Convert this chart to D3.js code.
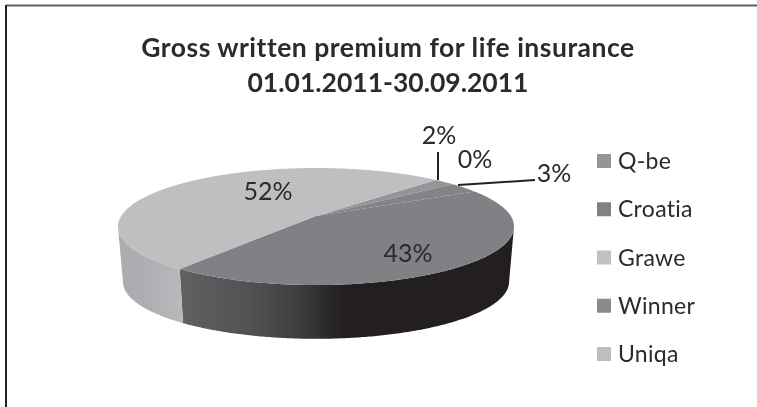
<!DOCTYPE html>
<html>
<head>
<meta charset="utf-8">
<script src="https://cdn.jsdelivr.net/npm/d3@7"></script>
<style>
html, body { margin: 0; padding: 0; background: #fff; }
svg { display: block; filter: blur(0.35px); }
text { font-family: Lato, "Open Sans", sans-serif; fill: #2b2a2c; }
</style>
</head>
<body>
<script>
const categories = ['Q-be', 'Croatia', 'Grawe', 'Winner', 'Uniqa']
const shares = [2, 0, 3, 43, 52]
const legendColors = ['#939598', '#808285', '#c0c1c3', '#8a8b8e', '#bcbec0']
const topColors = ['#939598', '#808285', '#838487', '#808184', '#bebfc1']
const titleLines = ['Gross written premium for life insurance', '01.01.2011-30.09.2011']

const W = 757, H = 407

// pie layout, clockwise from north, first slice starts at 44 degrees
const START = 44 * Math.PI / 180
const slices = d3.pie().sort(null).value(d => d)
    .startAngle(START).endAngle(START + 2 * Math.PI)(shares)

// the disc is seen in perspective, so its centre sits above the middle of the ellipse
const CX = 316, CY = 216, PERSP = 0.18, RX = 194.8, RY = 56.6
const DEPTH = 55.5, BOTTOM_SCALE = 0.975

// where the rim is widest, walls stop there
const WALL_FROM = Math.acos(-PERSP)
const WALL_TO = 2 * Math.PI - WALL_FROM

function project(angle, scale = 1, dy = 0) {
    const u = Math.sin(angle), v = -Math.cos(angle)
    const w = 1 - PERSP * v
    return [CX + scale * RX * u / w, CY + dy + scale * RY * v / w]
}

function arcPoints(a0, a1, scale, dy) {
    const n = Math.max(2, Math.ceil(Math.abs(a1 - a0) / 0.01))
    return d3.range(n + 1).map(i => project(a0 + (a1 - a0) * i / n, scale, dy))
}

const line = d3.line()

const svg = d3.select('body').append('svg')
    .attr('width', W)
    .attr('height', H)

// frame, only top and left survive in the scan
svg.append('line').attr('x1', 6).attr('y1', 5.5).attr('x2', W).attr('y2', 5.5)
    .attr('stroke', '#5f5f5f').attr('stroke-width', 2)
svg.append('line').attr('x1', 6).attr('y1', 5).attr('x2', 6).attr('y2', H)
    .attr('stroke', '#222').attr('stroke-width', 2)

// wall shading
const defs = svg.append('defs')
function wallGradient(id, stops) {
    const g = defs.append('linearGradient').attr('id', id)
        .attr('gradientUnits', 'userSpaceOnUse')
        .attr('x1', 118).attr('x2', 514).attr('y1', 0).attr('y2', 0)
    stops.forEach(s => g.append('stop').attr('offset', (s[0] - 118) / 396).attr('stop-color', s[1]))
}
wallGradient('wallWinner', [[178, '#616163'], [250, '#525254'], [300, '#3d3d3f'], [330, '#28272a'], [345, '#231f20'], [514, '#231f20']])
wallGradient('wallUniqa', [[118, '#abacaf'], [150, '#aeafb2'], [182, '#b8b9bb']])

const wallFill = { Winner: 'url(#wallWinner)', Uniqa: 'url(#wallUniqa)' }

// walls first, the top faces cover whatever is behind
slices.forEach((s, i) => {
    const fill = wallFill[categories[i]]
    if (!fill) return
    const a0 = Math.max(s.startAngle, WALL_FROM)
    const a1 = Math.min(s.endAngle, WALL_TO)
    const pts = arcPoints(a0, a1, 1, 0).concat(arcPoints(a1, a0, BOTTOM_SCALE, DEPTH))
    svg.append('path').attr('d', line(pts) + 'Z').attr('fill', fill)
})

// top faces
svg.append('g').selectAll('path')
    .data(slices)
    .join('path')
    .attr('d', d => line([[CX, CY]].concat(arcPoints(d.startAngle, d.endAngle, 1, 0))) + 'Z')
    .attr('fill', (d, i) => topColors[i])

// leader lines
const leaders = [[[438, 152], [438, 180]], [[458, 185], [535, 180]]]
svg.append('g').selectAll('path')
    .data(leaders)
    .join('path')
    .attr('d', d => line(d))
    .attr('fill', 'none')
    .attr('stroke', '#222')
    .attr('stroke-width', 2)

// value labels
const labelAt = { 'Q-be': [439, 144], 'Croatia': [475, 168], 'Grawe': [554, 182], 'Winner': [408, 262], 'Uniqa': [268, 200] }
svg.append('g').selectAll('text')
    .data(categories)
    .join('text')
    .attr('x', d => labelAt[d][0])
    .attr('y', d => labelAt[d][1])
    .attr('text-anchor', 'middle')
    .attr('font-size', 25)
    .text((d, i) => shares[i] + '%')

// title
svg.append('g').selectAll('text')
    .data(titleLines)
    .join('text')
    .attr('x', 388)
    .attr('y', (d, i) => 57 + i * 35)
    .attr('text-anchor', 'middle')
    .attr('font-size', 26.5)
    .attr('font-weight', 700)
    .attr('letter-spacing', (d, i) => i ? 0 : 0.5)
    .text(d => d)

// legend
const legendY = d3.scalePoint().domain(categories).range([161, 354])
const legend = svg.append('g').selectAll('g')
    .data(categories)
    .join('g')
    .attr('transform', d => `translate(597,${legendY(d)})`)
legend.append('rect')
    .attr('y', -7).attr('width', 14).attr('height', 14)
    .attr('fill', (d, i) => legendColors[i])
legend.append('text')
    .attr('x', 21).attr('y', 8)
    .attr('font-size', 23)
    .attr('letter-spacing', 0.3)
    .text(d => d)
</script>
</body>
</html>
